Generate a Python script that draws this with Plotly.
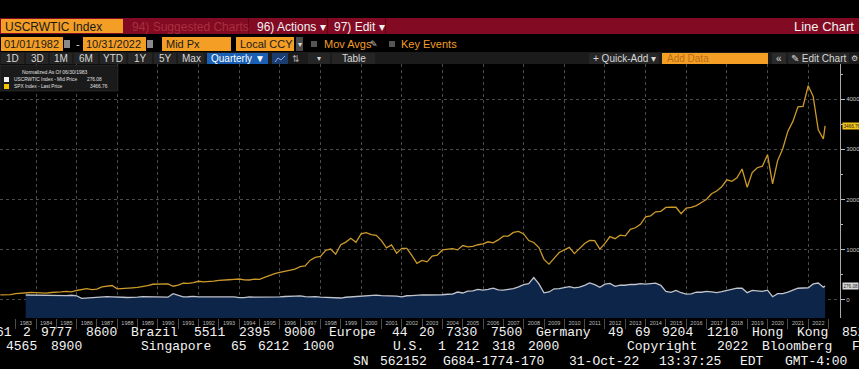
import plotly.graph_objects as go

# ---------------- data ----------------
quarter_ends = [f"{y}-{md}" for y in range(1982, 2023) for md in ("03-31", "06-30", "09-30", "12-31")]
spx_dates = quarter_ends[:-1] + ["2022-10-31"]
wtic_dates = spx_dates[5:]          # USCRWTIC starts 06/30/1983

# SPX Index - Last Price (normalized as of 06/30/1983)
spx = [
    100, 98, 108, 126,
    137, 151, 149, 148,
    143, 137, 149, 150,
    162, 172, 163, 189,
    214, 225, 207, 217,
    261, 272, 288, 221,
    232, 245, 243, 249,
    264, 285, 313, 316,
    304, 321, 274, 296,
    336, 332, 347, 373,
    361, 365, 374, 390,
    404, 403, 411, 418,
    399, 398, 414, 411,
    448, 488, 523, 552,
    578, 600, 615, 663,
    678, 793, 848, 869,
    986, 1015, 911, 1101,
    1152, 1229, 1148, 1316,
    1342, 1302, 1286, 1182,
    1039, 1096, 932, 1028,
    1027, 886, 730, 788,
    759, 873, 892, 996,
    1008, 1021, 998, 1085,
    1057, 1067, 1100, 1118,
    1159, 1137, 1196, 1270,
    1272, 1346, 1367, 1315,
    1184, 1146, 1044, 809,
    714, 823, 946, 998,
    1047, 923, 1022, 1126,
    1187, 1182, 1013, 1126,
    1261, 1220, 1290, 1277,
    1405, 1438, 1506, 1655,
    1676, 1755, 1766, 1843,
    1851, 1847, 1719, 1830,
    1844, 1879, 1941, 2005,
    2115, 2170, 2256, 2394,
    2364, 2434, 2609, 2245,
    2538, 2634, 2665, 2893,
    2314, 2776, 3011, 3363,
    3557, 3848, 3857, 4267,
    4056, 3389, 3210, 3466.76,
]

# USCRWTIC Index - Mid Price (normalized)
wtic = [
    99, 97, 94,
    98, 95, 94, 84,
    90, 87, 94, 84,
    33, 41, 48, 57,
    60, 65, 63, 53,
    54, 49, 45, 55,
    65, 64, 64, 70,
    65, 55, 126, 91,
    62, 64, 71, 61,
    62, 70, 69, 62,
    64, 60, 60, 45,
    47, 62, 58, 57,
    61, 56, 56, 63,
    69, 67, 78, 83,
    65, 63, 68, 56,
    50, 45, 51, 39,
    54, 62, 78, 82,
    86, 104, 98, 85,
    84, 84, 75, 63,
    84, 86, 97, 100,
    99, 96, 93, 104,
    114, 118, 158, 139,
    177, 180, 211, 195,
    212, 236, 201, 195,
    210, 226, 261, 306,
    324, 447, 321, 142,
    159, 223, 225, 253,
    267, 241, 255, 292,
    340, 304, 253, 315,
    329, 271, 294, 293,
    310, 308, 326, 314,
    324, 336, 291, 170,
    152, 190, 144, 118,
    122, 154, 154, 171,
    161, 147, 165, 193,
    207, 237, 234, 145,
    192, 187, 173, 195,
    65, 125, 128, 155,
    189, 234, 239, 240,
    320, 337, 254, 276.08,
]

year_labels = [str(y) for y in range(1983, 2023)]
year_label_pos = [f"{y}-07-02" for y in range(1983, 2023)]

spx_last = "3466.76"
wtic_last = "276.08"

footer_lines = [
    (-5, 332, "61 2 9777 8600 Brazil 5511 2395 9000 Europe 44 20 7330 7500 Germany 49 69 9204 1210 Hong Kong 852"),
    (5, 346.8, "4565 8900      Singapore 65 6212 1000      U.S. 1 212 318 2000       Copyright 2022 Bloomberg Finance"),
    (352, 361.5, "SN 562152 G684-1774-170 31-Oct-22 13:37:25 EDT  GMT-4:00"),
]

# ---------------- layout constants ----------------
W, H = 859, 369
PL, PR, PT, PB = 0, 840, 64, 318
Y_MIN, Y_MAX = -359, 4700
X_RANGE = ["1982-03-25", "2023-07-26"]
CHAR_W = 9.0


def PX(x):
    return (x - PL) / (PR - PL)


def PY(y):
    return (PB - y) / (PB - PT)


def rect(x0, y0, x1, y1, color, lw=0, lc="#000"):
    return dict(type="rect", xref="paper", yref="paper",
                x0=PX(x0), x1=PX(x1), y0=PY(y1), y1=PY(y0),
                fillcolor=color, line=dict(width=lw, color=lc), layer="above")


SANS = "Liberation Sans, Arial, sans-serif"
MONO = "Liberation Mono, DejaVu Sans Mono, monospace"


def txt(x, y, s, size=11, color="#ffffff", anchor="left", family=SANS, pad=1):
    return dict(xref="paper", yref="paper", x=PX(x), y=PY(y), text=s,
                showarrow=False, xanchor=anchor, yanchor="middle", borderpad=pad,
                font=dict(size=size, color=color, family=family))


ORANGE = "#f49e25"
RED = "#820a22"
GOLD = "#cc9a2a"

fig = go.Figure()

# baseline for the area fill (bottom of plot)
fig.add_trace(go.Scatter(x=wtic_dates, y=[Y_MIN] * len(wtic_dates), mode="lines",
                         line=dict(width=0), hoverinfo="skip", showlegend=False))
fig.add_trace(go.Scatter(x=wtic_dates, y=wtic, mode="lines", fill="tonexty",
                         fillcolor="#0d2548", line=dict(color="#c0c4cc", width=1.3),
                         name="USCRWTIC Index - Mid Price", showlegend=False))
fig.add_trace(go.Scatter(x=spx_dates, y=spx, mode="lines",
                         line=dict(color=GOLD, width=1.3),
                         name="SPX Index - Last Price", showlegend=False))
# invisible trace to carry the label axis
fig.add_trace(go.Scatter(x=spx_dates, y=spx, xaxis="x2", mode="lines", opacity=0,
                         line=dict(width=0), hoverinfo="skip", showlegend=False))

shapes = []
ann = []

# ---- header row 1 ----
shapes.append(rect(0, 18, 859, 34, RED))
shapes.append(rect(1, 19, 123, 33, ORANGE))
shapes.append(rect(248, 18, 249, 34, "#5a0616"))
shapes.append(rect(327, 18, 328, 34, "#5a0616"))
shapes.append(rect(385, 18, 386, 34, "#5a0616"))
ann.append(txt(3, 26.5, "USCRWTIC Index", 12, "#1a1a1a"))
ann.append(txt(130, 26.5, "94) Suggested Charts", 12, "#a8303f"))
ann.append(txt(255, 26.5, "96) Actions \u25be", 12, "#f0f0f0"))
ann.append(txt(332, 26.5, "97) Edit \u25be", 12, "#f0f0f0"))
ann.append(txt(856, 26.5, "Line Chart", 13, "#f0f0f0", anchor="right"))

# ---- header row 2 ----
shapes.append(rect(1, 37, 63, 51, ORANGE))
shapes.append(rect(64, 40, 70, 48, "#8a8a8a"))
shapes.append(rect(83, 37, 146, 51, ORANGE))
shapes.append(rect(147, 40, 153, 48, "#8a8a8a"))
shapes.append(rect(162, 37, 231, 51, ORANGE))
shapes.append(rect(236, 37, 294, 51, ORANGE))
shapes.append(rect(296, 37, 303, 51, "#4a4a4a"))
shapes.append(rect(311, 41, 317, 47, "#555555"))
shapes.append(rect(389, 41, 395, 47, "#555555"))
ann.append(txt(2, 44.5, "01/01/1982", 11, "#1a1a1a"))
ann.append(txt(78, 44.5, "-", 11, "#dddddd", anchor="center"))
ann.append(txt(84, 44.5, "10/31/2022", 11, "#1a1a1a"))
ann.append(txt(164, 44.5, "Mid Px", 11, "#1a1a1a"))
ann.append(txt(238, 44.5, "Local CCY", 11, "#1a1a1a"))
ann.append(txt(299.5, 44.5, "\u25be", 8, "#dddddd", anchor="center"))
ann.append(txt(322, 44.5, "Mov Avgs", 11, ORANGE))
ann.append(txt(374, 44.5, "\u270e", 9, "#cccccc", anchor="center"))
ann.append(txt(399, 44.5, "Key Events", 11, ORANGE))

# ---- header row 3 (toolbar) ----
shapes.append(rect(0, 52, 859, 64, "#1b1b1b"))
for x0, x1 in [(1, 24), (26, 48), (50, 72), (74, 98), (100, 126), (128, 152),
               (154, 176), (178, 204), (308, 330), (332, 375)]:
    shapes.append(rect(x0, 53, x1, 64, "#252525"))
shapes.append(rect(207, 53, 268, 64, "#1a5fb4"))
shapes.append(rect(272, 53, 288, 64, "#1d3c6e"))
shapes.append(rect(589, 53, 659, 64, "#262626"))
shapes.append(rect(662, 53, 768, 64, ORANGE))
shapes.append(rect(772, 53, 786, 64, "#2a2a2a"))
shapes.append(rect(788, 53, 849, 64, "#262626"))
shapes.append(dict(type="path", xref="paper", yref="paper", layer="above",
                   path=(f"M {PX(275)},{PY(62)} L {PX(278)},{PY(58)} L {PX(281)},{PY(60)} "
                         f"L {PX(285)},{PY(56)}"),
                   line=dict(color="#7fb0ff", width=1)))
tb = "#d8d8d8"
for cx, s in [(12.5, "1D"), (37, "3D"), (61, "1M"), (86, "6M"), (113, "YTD"),
              (140, "1Y"), (165, "5Y"), (191, "Max")]:
    ann.append(txt(cx, 58.5, s, 10, tb, anchor="center"))
ann.append(txt(237.5, 58.5, "Quarterly \u25bc", 10, "#ffffff", anchor="center"))
ann.append(txt(296, 58.5, "\u21c5", 9, "#aaaaaa", anchor="center"))
ann.append(txt(319, 58.5, "\u25be", 8, tb, anchor="center"))
ann.append(txt(353.5, 58.5, "Table", 10, tb, anchor="center"))
ann.append(txt(624, 58.5, "+ Quick-Add \u25be", 10, tb, anchor="center"))
ann.append(txt(665, 58.5, "Add Data", 10, "#b86e14"))
ann.append(txt(779, 58.5, "\u00ab", 10, tb, anchor="center"))
ann.append(txt(818.5, 58.5, "\u270e Edit Chart", 10, tb, anchor="center"))
ann.append(txt(854, 58.5, "\u2699", 8, tb, anchor="center"))

# ---- legend box in plot ----
shapes.append(rect(0, 65, 118, 91, "rgba(28,28,28,0.92)", lw=0.5, lc="#3a3a3a"))
shapes.append(rect(4, 77, 9, 82, "#f2f2f2"))
shapes.append(rect(4, 84, 9, 89, "#f5c400"))
ann.append(txt(55, 72, "Normalized As Of 06/30/1983", 5, "#e0e0e0", anchor="center"))
ann.append(txt(12, 79.5, "USCRWTIC Index - Mid Price", 4.8, "#e0e0e0"))
ann.append(txt(104, 79.5, wtic_last, 4.8, "#e0e0e0", anchor="right"))
ann.append(txt(12, 86.5, "SPX Index - Last Price", 4.8, "#e0e0e0"))
ann.append(txt(110, 86.5, spx_last, 4.8, "#e0e0e0", anchor="right"))

# ---- last value tags ----
ann.append(dict(xref="paper", yref="y", x=PX(841.5), y=float(spx_last), text=spx_last,
                showarrow=False, xanchor="left", yanchor="middle", bgcolor="#f2c418",
                borderpad=0.5, font=dict(size=4.6, color="#222222", family=SANS)))
ann.append(dict(xref="paper", yref="y", x=PX(841.5), y=float(wtic_last), text=wtic_last,
                showarrow=False, xanchor="left", yanchor="middle", bgcolor="#d8d8d8",
                borderpad=0.5, font=dict(size=4.6, color="#222222", family=SANS)))

# ---- footer: words placed on the terminal's 9px character grid ----
FS = 13
for x0, y, line in footer_lines:
    i = 0
    for word in line.split(" "):
        if word:
            ann.append(txt(x0 + i * CHAR_W, y, word, FS, "#f4f4f4", family=MONO, pad=0))
        i += len(word) + 1

fig.update_layout(
    width=W, height=H, autosize=False,
    margin=dict(l=PL, r=W - PR, t=PT, b=H - PB, pad=0),
    paper_bgcolor="#000000", plot_bgcolor="#000000",
    showlegend=False, hovermode=False,
    xaxis=dict(type="date", range=X_RANGE, showgrid=True, gridcolor="#4a4a4a",
               griddash="dot", gridwidth=1, dtick="M24", tick0="1984-01-01",
               ticks="outside", ticklen=10, tickcolor="#4a4a4a", showticklabels=False,
               minor=dict(dtick="M12", tick0="1983-01-01", ticks="outside", ticklen=10,
                          tickcolor="#4a4a4a", showgrid=False),
               zeroline=False, showline=False, fixedrange=True),
    xaxis2=dict(type="date", range=X_RANGE, overlaying="x", anchor="y", side="bottom",
                tickmode="array", tickvals=year_label_pos, ticktext=year_labels,
                ticks="", showgrid=False, zeroline=False, showline=False,
                tickfont=dict(size=5.5, color="#bbbbbb", family=SANS), ticklabelstandoff=0),
    yaxis=dict(side="right", range=[Y_MIN, Y_MAX], dtick=1000, tick0=0,
               showgrid=True, gridcolor="#4a4a4a", griddash="dot", gridwidth=1,
               ticks="outside", ticklen=4, tickcolor="#bbbbbb",
               minor=dict(dtick=500, ticks="outside", ticklen=2, tickcolor="#bbbbbb", showgrid=False),
               showline=True, linecolor="#aaaaaa", linewidth=1, zeroline=False,
               tickfont=dict(size=6, color="#cccccc", family=SANS), fixedrange=True),
    shapes=shapes, annotations=ann,
)

fig.write_html("out.html", config={"displayModeBar": False},
               post_script="document.body.style.margin='0px';document.body.style.overflow='hidden';")
